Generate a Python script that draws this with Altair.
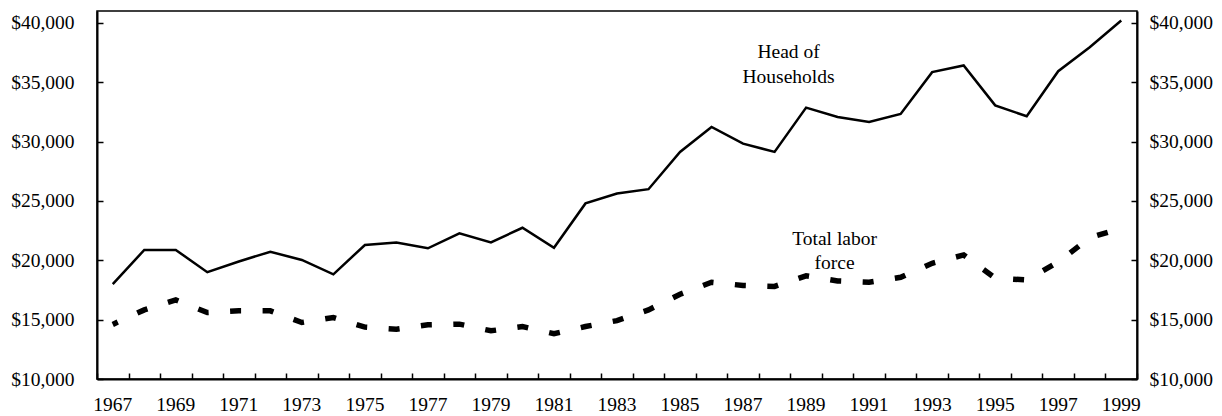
import altair as alt
import pandas as pd

years = list(range(1967, 2000))
head_of_households = [18000, 20870, 20870, 19000, 19900, 20720, 20030, 18820, 21290, 21500,
                      21010, 22270, 21510, 22740, 21060, 24790, 25630, 25990, 29130, 31230,
                      29830, 29130, 32860, 32070, 31650, 32330, 35850, 36410, 33050, 32130,
                      35930, 37950, 40200]
total_labor_force = [14600, 15820, 16660, 15600, 15740, 15740, 14760, 15180, 14370, 14200,
                     14560, 14620, 14060, 14420, 13810, 14420, 14920, 15820, 17140, 18150,
                     17880, 17800, 18690, 18260, 18150, 18570, 19750, 20450, 18500, 18340,
                     19850, 21900, 22700]
y_ticks = [10000, 15000, 20000, 25000, 30000, 35000, 40000]

head_label_year = [1988, 1988]
head_label_value = [37550, 35400]
head_label_text = ["Head of", "Households"]
labor_label_year = [1990, 1990]
labor_label_value = [21770, 19750]
labor_label_text = ["Total labor", "force"]

W, H = 1040, 368
FONT = "Liberation Serif"
FS = 19.5

df = pd.DataFrame({"year": years, "head": head_of_households, "labor": total_labor_force})
ann1 = pd.DataFrame({"year": head_label_year, "value": head_label_value, "text": head_label_text})
ann2 = pd.DataFrame({"year": labor_label_year, "value": labor_label_value, "text": labor_label_text})

xscale = alt.Scale(type="band", paddingInner=0, paddingOuter=0, domain=years)
yscale = alt.Scale(domain=[10000, 41000], nice=False, zero=False)

ax_bottom = alt.Axis(orient="bottom", ticks=False, tickSize=0, domain=True, domainColor="black",
                     domainWidth=2, labelPadding=16, labelFont=FONT, labelFontSize=FS,
                     labelColor="black", labelAngle=0, labelOverlap=False, grid=False, title=None,
                     labelExpr="datum.value % 2 == 1 ? datum.value : ''")
ax_bottom_ticks = alt.Axis(orient="top", offset=-H, labels=False, domain=False, ticks=True,
                           tickSize=6, tickWidth=1.5, tickColor="black", tickBand="extent",
                           grid=False, title=None)
ax_left = alt.Axis(orient="left", ticks=False, tickSize=0, domain=True, domainColor="black",
                   domainWidth=2, labelPadding=23, labelFont=FONT, labelFontSize=FS,
                   labelColor="black", format="$,.0f", values=y_ticks, grid=False, title=None)
ax_right = alt.Axis(orient="right", ticks=False, tickSize=0, domain=True, domainColor="black",
                    domainWidth=2, labelPadding=12, labelFont=FONT, labelFontSize=FS,
                    labelColor="black", format="$,.0f", values=y_ticks, grid=False, title=None)
ax_left_ticks = alt.Axis(orient="right", offset=-W, labels=False, domain=False, ticks=True,
                         tickSize=6, tickWidth=1.5, tickColor="black", values=y_ticks,
                         grid=False, title=None)
ax_right_ticks = alt.Axis(orient="left", offset=-W, labels=False, domain=False, ticks=True,
                          tickSize=6, tickWidth=1.5, tickColor="black", values=y_ticks,
                          grid=False, title=None)

solid = alt.Chart(df).mark_line(color="black", strokeWidth=2.5).encode(
    x=alt.X("year:O", scale=xscale, axis=ax_bottom),
    y=alt.Y("head:Q", scale=yscale, axis=ax_left),
)
dashed = alt.Chart(df).mark_line(color="black", strokeWidth=5.5, strokeCap="butt",
                                 strokeDash=[11, 21.5], strokeDashOffset=5.5).encode(
    x=alt.X("year:O", scale=xscale, axis=ax_bottom_ticks),
    y=alt.Y("labor:Q", scale=yscale, axis=ax_right),
)
txt1 = alt.Chart(ann1).mark_text(font=FONT, fontSize=FS, color="black", dx=14,
                                 align="center", baseline="middle").encode(
    x=alt.X("year:O", scale=xscale, axis=None),
    y=alt.Y("value:Q", scale=yscale, axis=ax_left_ticks),
    text="text:N",
)
txt2 = alt.Chart(ann2).mark_text(font=FONT, fontSize=FS, color="black", dx=-3,
                                 align="center", baseline="middle").encode(
    x=alt.X("year:O", scale=xscale, axis=None),
    y=alt.Y("value:Q", scale=yscale, axis=ax_right_ticks),
    text="text:N",
)

chart = alt.layer(solid, dashed, txt1, txt2).resolve_axis(
    x="independent", y="independent"
).properties(
    width=W, height=H,
    autosize=alt.AutoSizeParams(type="none"),
    padding={"left": 89, "top": 3, "right": 77, "bottom": 37},
    background="white",
).configure_view(stroke="black", strokeWidth=1.5)

chart.save("out.html", embed_options={"renderer": "svg", "actions": False})
